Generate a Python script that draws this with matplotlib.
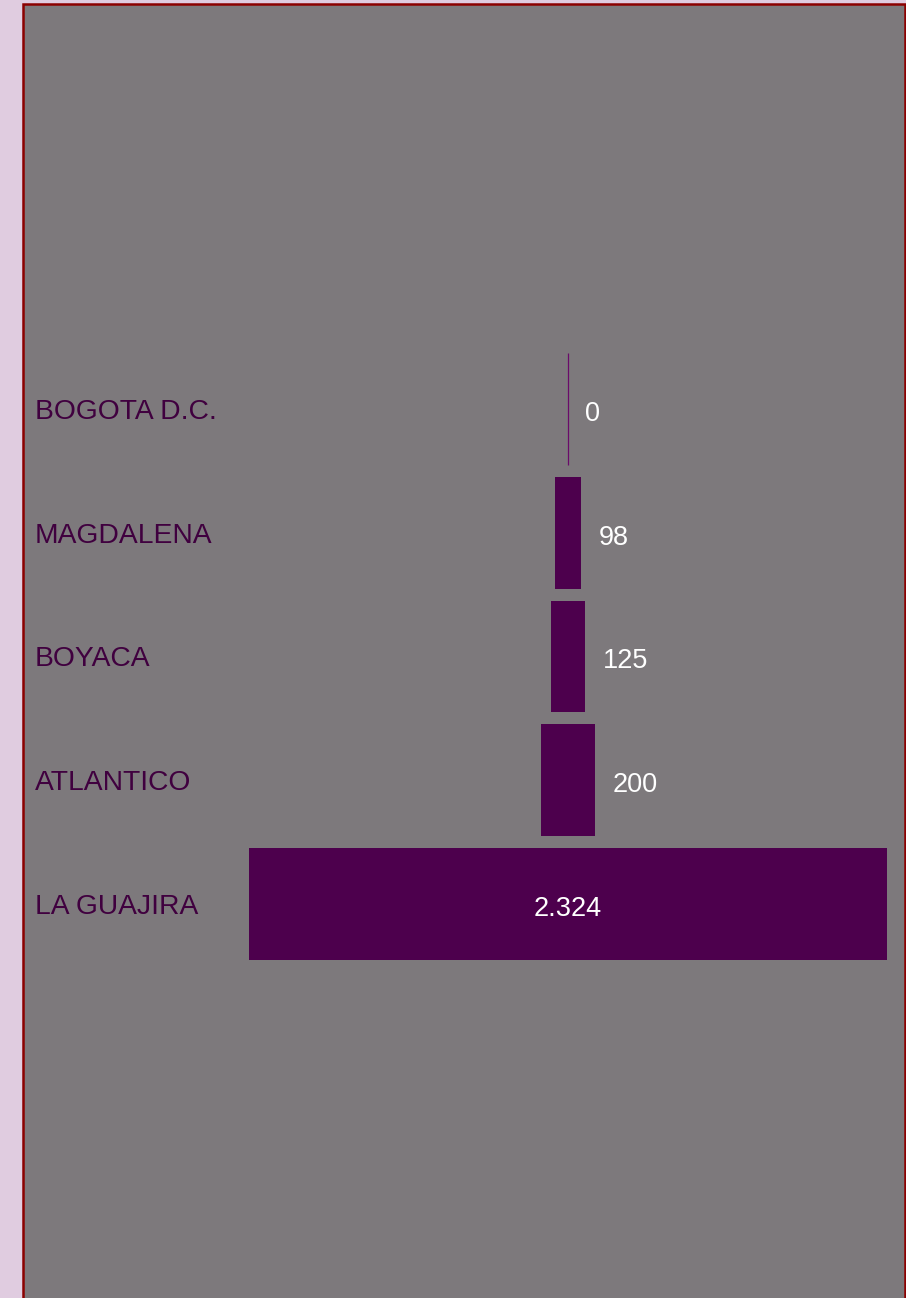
import matplotlib
matplotlib.use("Agg")
import matplotlib.pyplot as plt
from matplotlib.patches import Rectangle

plt.rcParams['font.family'] = ['Liberation Sans', 'DejaVu Sans']

departamentos = ["BOGOTA D.C.", "MAGDALENA", "BOYACA", "ATLANTICO", "LA GUAJIRA"]
valores = [0, 98, 125, 200, 2324]
etiquetas = ["0", "98", "125", "200", "2.324"]

W, H = 906, 1298
fig = plt.figure(figsize=(W / 100, H / 100), dpi=100)
fig.patch.set_facecolor("#e0cce0")

# panel with dark red frame
left, top, right = 24, 5, 904
fig.patches.append(Rectangle((23 / W, -0.01), (904.5 - 23) / W, 1.01 - 4 / H,
                             transform=fig.transFigure, facecolor="#7d797c",
                             edgecolor="#8b0000", linewidth=1.8, zorder=-10))

ax = fig.add_axes([left / W, 0, (right - left) / W, 1 - top / H])
ax.set_facecolor("none")
for s in ax.spines.values():
    s.set_visible(False)
ax.set_xticks([])
ax.set_yticks([])

# funnel scale: largest bar spans 638 px, centred at x=568
upp = 2324 / 638.0
ax.set_xlim(-(568 - left) * upp, (right - 568) * upp)
pitch = 123.75
ax.set_ylim((H - 409) / pitch, (top - 409) / pitch)

for i, v in enumerate(valores):
    if v == 0:
        ax.barh(i, v, left=-v / 2, height=0.905, color="#4d004d",
                edgecolor="#6a0a6a", linewidth=0.9)
    else:
        ax.barh(i, v, left=-v / 2, height=0.905, color="#4d004d", linewidth=0)

for i, (v, t) in enumerate(zip(valores, etiquetas)):
    if v > 1000:
        ax.annotate(t, (0, i), xytext=(0, -3.5), textcoords="offset points",
                    ha="center", va="center", color="white", fontsize=19.5)
    else:
        ax.annotate(t, (v / 2, i), xytext=(12.5, -3.5), textcoords="offset points",
                    ha="left", va="center", color="white", fontsize=19.5)
    ax.annotate(departamentos[i], (11 / (right - left), i), xycoords=ax.get_yaxis_transform(),
                xytext=(0, -2), textcoords="offset points",
                ha="left", va="center", color="#40003f", fontsize=20.3)

fig.savefig("out.png", dpi=100, facecolor=fig.get_facecolor())
